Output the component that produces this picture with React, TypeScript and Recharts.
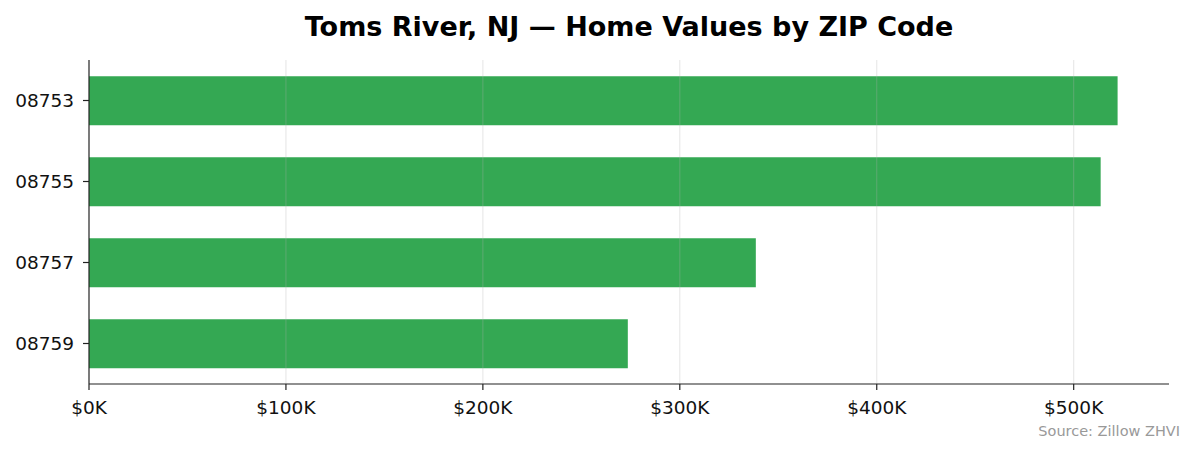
import { BarChart, Bar, XAxis, YAxis, ReferenceLine } from "recharts";

// Zillow ZHVI by ZIP, Toms River NJ
const zips = ["08753", "08755", "08757", "08759"];
const homeValues = [522300, 513700, 338600, 273600];
const xTicks = [0, 100000, 200000, 300000, 400000, 500000];
const xMax = 548400;

const data = zips.map((zip, i) => ({ zip, value: homeValues[i] }));

const FONT = "'DejaVu Sans', sans-serif";
const AXIS = "#222";

const fmtK = (v: number) => `$${Math.round(v / 1000)}K`;

export default function App() {
  return (
    <div
      style={{
        position: "absolute",
        left: 0,
        top: 0,
        width: 1194,
        height: 455,
        background: "#fff",
        fontFamily: FONT,
      }}
    >
      <div
        style={{
          position: "absolute",
          left: 89,
          width: 1080,
          top: 12,
          textAlign: "center",
          fontSize: 27,
          fontWeight: "bold",
          lineHeight: "30px",
          color: "#000",
        }}
      >
        Toms River, NJ — Home Values by ZIP Code
      </div>
      <BarChart
        width={1194}
        height={455}
        data={data}
        layout="vertical"
        barCategoryGap="20%"
        margin={{ top: 60, right: 25, left: 0, bottom: 0 }}
      >
        <XAxis
          type="number"
          dataKey="value"
          domain={[0, xMax]}
          ticks={xTicks}
          tickFormatter={fmtK}
          height={71}
          tickSize={6}
          tickMargin={11}
          axisLine={{ stroke: AXIS, strokeWidth: 1.2 }}
          tickLine={{ stroke: AXIS, strokeWidth: 1.2 }}
          tick={{ fill: "#111", fontSize: 18.5, fontFamily: FONT }}
          allowDataOverflow
        />
        <YAxis
          type="category"
          dataKey="zip"
          width={89}
          tickSize={6}
          tickMargin={9}
          axisLine={{ stroke: AXIS, strokeWidth: 1.2 }}
          tickLine={{ stroke: AXIS, strokeWidth: 1.2 }}
          tick={{ fill: "#111", fontSize: 18.5, fontFamily: FONT }}
        />
        <Bar dataKey="value" fill="#34a853" isAnimationActive={false} />
        {xTicks.slice(1).map((t) => (
          <ReferenceLine
            key={t}
            x={t}
            stroke="#b0b0b0"
            strokeOpacity={0.3}
            strokeWidth={1.1}
          />
        ))}
      </BarChart>
      <div
        style={{
          position: "absolute",
          right: 14,
          top: 422,
          fontSize: 14.5,
          color: "#999",
          lineHeight: "18px",
        }}
      >
        Source: Zillow ZHVI
      </div>
    </div>
  );
}
